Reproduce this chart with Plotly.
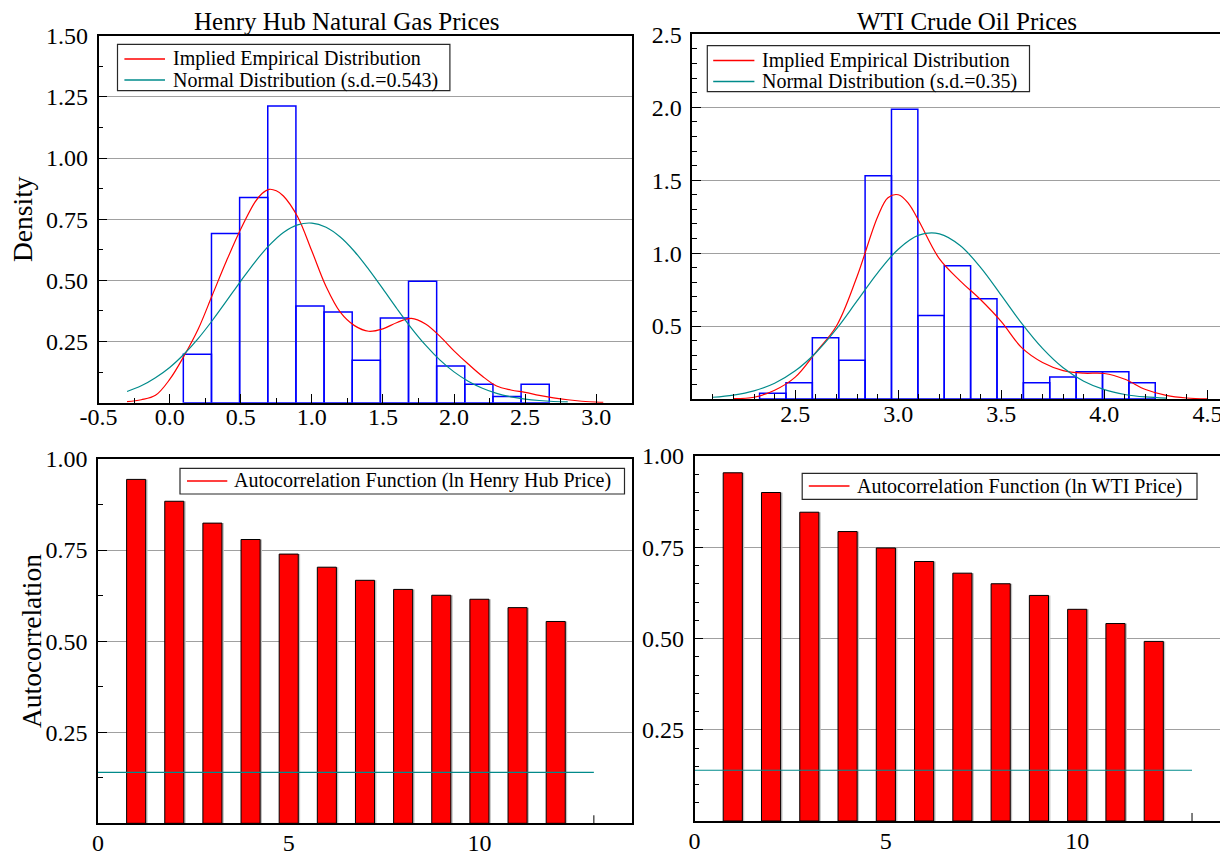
import plotly.graph_objects as go

# the page body adds an 8px margin, so the figure is sized to fill the rest of the window
OFF = 8
W, H = 1228 - OFF, 857 - OFF
FONT = "Liberation Serif"

# ---------------- Henry Hub: histogram + densities ----------------
hh_bin_edges = [0.096, 0.294, 0.492, 0.690, 0.888, 1.086, 1.284, 1.482,
                1.680, 1.878, 2.076, 2.274, 2.472, 2.670]
hh_density = [0.198, 0.692, 0.839, 1.2125, 0.395, 0.371, 0.173, 0.346,
              0.496, 0.150, 0.075, 0.025, 0.075]
hh_kde_x = [-0.3, -0.2, -0.1, 0.0, 0.1, 0.2, 0.3, 0.4, 0.5, 0.6, 0.65, 0.7, 0.75,
            0.8, 0.9, 1.0, 1.1, 1.2, 1.3, 1.4, 1.5, 1.6, 1.7, 1.8, 1.9, 2.0,
            2.1, 2.2, 2.3, 2.4, 2.5, 2.6, 2.7, 2.8, 2.9, 3.0, 3.05]
hh_kde_y = [0.004, 0.012, 0.03, 0.095, 0.19, 0.30, 0.44, 0.58, 0.71, 0.82, 0.855, 0.872, 0.866,
            0.845, 0.76, 0.62, 0.475, 0.37, 0.315, 0.292, 0.302, 0.328, 0.345, 0.322, 0.272, 0.212,
            0.158, 0.108, 0.068, 0.052, 0.042, 0.030, 0.020, 0.012, 0.006, 0.002, 0.001]
hh_norm_x = [-0.3, -0.2, -0.1, 0.0, 0.1, 0.2, 0.3, 0.4, 0.5, 0.6, 0.7, 0.8, 0.9, 1.0,
             1.1, 1.2, 1.3, 1.4, 1.5, 1.6, 1.7, 1.8, 1.9, 2.0, 2.1, 2.2, 2.3, 2.4,
             2.5, 2.6, 2.7, 2.8]
hh_norm_y = [0.046, 0.069, 0.102, 0.144, 0.198, 0.262, 0.336, 0.416, 0.497, 0.575, 0.643,
             0.696, 0.727, 0.734, 0.717, 0.677, 0.618, 0.545, 0.465, 0.383, 0.305, 0.235,
             0.175, 0.126, 0.088, 0.059, 0.038, 0.024, 0.015, 0.009, 0.005, 0.003]

# ---------------- WTI: histogram + densities ----------------
wti_bin_edges = [2.327, 2.455, 2.583, 2.711, 2.839, 2.967, 3.095, 3.223, 3.351,
                 3.479, 3.607, 3.735, 3.863, 3.991, 4.119, 4.247]
wti_density = [0.039, 0.112, 0.42, 0.265, 1.53, 1.986, 0.573, 0.913, 0.687,
               0.495, 0.112, 0.151, 0.187, 0.187, 0.112]
wti_kde_x = [2.2, 2.3, 2.4, 2.5, 2.6, 2.7, 2.8, 2.9, 2.95, 3.0, 3.05, 3.1, 3.2, 3.3,
             3.4, 3.5, 3.6, 3.7, 3.8, 3.9, 4.0, 4.1, 4.2, 4.3, 4.4, 4.5]
wti_kde_y = [0.003, 0.012, 0.06, 0.15, 0.32, 0.50, 0.84, 1.25, 1.38, 1.40, 1.34, 1.22, 0.96, 0.81,
             0.68, 0.53, 0.35, 0.25, 0.195, 0.177, 0.175, 0.135, 0.065, 0.025, 0.007, 0.001]
wti_norm_x = [2.1, 2.2, 2.3, 2.4, 2.5, 2.6, 2.7, 2.8, 2.9, 3.0, 3.1, 3.2, 3.3, 3.4,
              3.5, 3.6, 3.7, 3.8, 3.9, 4.0, 4.1, 4.2, 4.3]
wti_norm_y = [0.012, 0.027, 0.056, 0.108, 0.193, 0.317, 0.480, 0.672, 0.865, 1.027, 1.123,
              1.132, 1.052, 0.901, 0.711, 0.517, 0.347, 0.214, 0.122, 0.064, 0.031, 0.014, 0.006]

# ---------------- Autocorrelations ----------------
acf_lags = [1, 2, 3, 4, 5, 6, 7, 8, 9, 10, 11, 12]
hh_acf = [0.944, 0.884, 0.824, 0.779, 0.739, 0.703, 0.667, 0.642, 0.626, 0.615, 0.592, 0.554]
wti_acf = [0.954, 0.900, 0.846, 0.793, 0.748, 0.711, 0.679, 0.650, 0.618, 0.580, 0.541, 0.492]
band_x = [0, 13]
hh_band = 0.140
wti_band = 0.139

# ---------------- labels ----------------
hh_xticks = [-0.5, 0.0, 0.5, 1.0, 1.5, 2.0, 2.5, 3.0]
hh_yticks = [0.25, 0.50, 0.75, 1.00, 1.25, 1.50]
wti_xticks = [2.5, 3.0, 3.5, 4.0, 4.5]
wti_yticks = [0.5, 1.0, 1.5, 2.0, 2.5]
acf_xticks = [0, 5, 10]
acf_yticks = [0.25, 0.50, 0.75, 1.00]
panel_titles = ["Henry Hub Natural Gas Prices", "WTI Crude Oil Prices"]
axis_titles = ["Density", "Autocorrelation"]
legend_names = ["Implied Empirical Distribution", "Normal Distribution (s.d.=0.543)",
                "Normal Distribution (s.d.=0.35)",
                "Autocorrelation Function (ln Henry Hub Price)",
                "Autocorrelation Function (ln WTI Price)"]

RED = "rgb(255,0,0)"
TEAL = "rgb(0,139,139)"
BLUE = "rgb(0,0,255)"

fig = go.Figure()


def hist(edges, dens, xa, ya):
    centers = [(edges[i] + edges[i + 1]) / 2 for i in range(len(dens))]
    widths = [edges[i + 1] - edges[i] for i in range(len(dens))]
    fig.add_trace(go.Bar(x=centers, y=dens, width=widths, xaxis=xa, yaxis=ya,
                         marker=dict(color="rgba(0,0,0,0)", line=dict(color=BLUE, width=1.5)),
                         showlegend=False, hoverinfo="skip"))


hist(hh_bin_edges, hh_density, "x", "y")
fig.add_trace(go.Scatter(x=hh_kde_x, y=hh_kde_y, mode="lines", line=dict(color=RED, width=1.2, shape="spline"),
                         name=legend_names[0], xaxis="x", yaxis="y", showlegend=False))
fig.add_trace(go.Scatter(x=hh_norm_x, y=hh_norm_y, mode="lines", line=dict(color=TEAL, width=1.2, shape="spline"),
                         name=legend_names[1], xaxis="x", yaxis="y", showlegend=False))

hist(wti_bin_edges, wti_density, "x2", "y2")
fig.add_trace(go.Scatter(x=wti_kde_x, y=wti_kde_y, mode="lines", line=dict(color=RED, width=1.2, shape="spline"),
                         name=legend_names[0], xaxis="x2", yaxis="y2", showlegend=False))
fig.add_trace(go.Scatter(x=wti_norm_x, y=wti_norm_y, mode="lines", line=dict(color=TEAL, width=1.2, shape="spline"),
                         name=legend_names[2], xaxis="x2", yaxis="y2", showlegend=False))


def acf(vals, band, xa, ya, name):
    fig.add_trace(go.Bar(x=acf_lags, y=vals, width=0.5, offset=-0.2, xaxis=xa, yaxis=ya,
                         marker=dict(color="rgb(195,195,195)", line=dict(width=0)),
                         showlegend=False, hoverinfo="skip"))
    fig.add_trace(go.Bar(x=acf_lags, y=vals, width=0.5, offset=-0.25, xaxis=xa, yaxis=ya,
                         marker=dict(color=RED, line=dict(color="black", width=1)),
                         name=name, showlegend=False))
    fig.add_trace(go.Scatter(x=band_x, y=[band, band], mode="lines", line=dict(color=TEAL, width=1.2),
                             xaxis=xa, yaxis=ya, showlegend=False))


acf(hh_acf, hh_band, "x3", "y3", legend_names[3])
acf(wti_acf, wti_band, "x4", "y4", legend_names[4])


# screen pixel -> paper fraction
def sx(v):
    return (v - OFF) / W


def sy(v):
    return 1 - (v - OFF) / H


def px_x(a, b):
    return [max(0.0, sx(a)), min(1.0, sx(b))]


def px_y(top, bottom):
    return [max(0.0, sy(bottom)), min(1.0, sy(top))]


def axis(domain, rng, tickvals, fmt, minor, mirror, anchor, grid=False, ticks="inside", standoff=0):
    d = dict(domain=domain, range=rng, tickmode="array", tickvals=tickvals,
             ticktext=[fmt.format(v) for v in tickvals], anchor=anchor, automargin=False,
             showline=True, linecolor="black", linewidth=1.5, mirror=mirror,
             ticks=ticks, ticklen=9, tickwidth=1, tickcolor="black",
             tickfont=dict(family=FONT, size=24, color="black"), ticklabelstandoff=standoff,
             zeroline=False, showgrid=grid, gridcolor="rgb(160,160,160)", gridwidth=1.2,
             fixedrange=True)
    if minor:
        d["minor"] = dict(tickmode="linear", tick0=minor[0], dtick=minor[1], ticks="inside",
                          ticklen=5, tickwidth=1, tickcolor="black", showgrid=False)
    return d


layout = dict(
    width=W, height=H, margin=dict(l=0, r=0, t=0, b=0, autoexpand=False),
    paper_bgcolor="white", plot_bgcolor="white", barmode="overlay", showlegend=False,
    font=dict(family=FONT, color="black"),
    xaxis=axis(px_x(98.6, 631.7), [-0.5, 3.25], hh_xticks, "{:.1f}", (0, 0.25), True, "y", standoff=-8),
    yaxis=axis(px_y(35.7, 402.7), [0, 1.5], hh_yticks, "{:.2f}", (0, 0.125), True, "x", grid=True, standoff=4),
    xaxis2=axis(px_x(692.2, 1228), [2.0, 4.6], wti_xticks, "{:.1f}", (2.0, 0.1), True, "y2", standoff=-8),
    yaxis2=axis(px_y(34.3, 399), [0, 2.5], wti_yticks, "{:.1f}", (0, 0.1), False, "x2", grid=True, standoff=4),
    xaxis3=axis(px_x(98, 632), [0, 14], acf_xticks, "{:d}", None, True, "y3", ticks="", standoff=-3),
    yaxis3=axis(px_y(459, 823.3), [0, 1.0], acf_yticks, "{:.2f}", (0, 0.125), True, "x3", grid=True, standoff=4),
    xaxis4=axis(px_x(694.5, 1228), [0, 13.94], acf_xticks, "{:d}", None, True, "y4", ticks="", standoff=-3),
    yaxis4=axis(px_y(456, 821), [0, 1.0], acf_yticks, "{:.2f}", (0, 0.05), False, "x4", grid=True, standoff=4),
)
fig.update_layout(**layout)

# panel titles (top of text box at the top of the figure)
for text, xc in [(panel_titles[0], 346.5), (panel_titles[1], 967)]:
    fig.add_annotation(text=text, x=sx(xc), y=1.0, xref="paper", yref="paper",
                       xanchor="center", yanchor="top", showarrow=False, yshift=2,
                       font=dict(family=FONT, size=25, color="black"))

# y-axis titles
for text, xc, yc in [(axis_titles[0], 22, 219), (axis_titles[1], 31.6, 641.5)]:
    fig.add_annotation(text=text, x=sx(xc), y=sy(yc), xref="paper", yref="paper",
                       xanchor="center", yanchor="middle", showarrow=False, textangle=-90,
                       font=dict(family=FONT, size=27.5, color="black"))


# ---- legend boxes (positioned in screen pixels) ----
def legend_box(x0, x1, y0, y1, rows, line_x, text_x):
    fig.add_shape(type="rect", xref="paper", yref="paper", x0=sx(x0), x1=sx(x1),
                  y0=sy(y1), y1=sy(y0), line=dict(color="rgb(40,40,40)", width=1.2),
                  fillcolor="white", layer="above")
    for yc, color, text in rows:
        fig.add_shape(type="line", xref="paper", yref="paper", x0=sx(line_x[0]), x1=sx(line_x[1]),
                      y0=sy(yc), y1=sy(yc), line=dict(color=color, width=1.5), layer="above")
        fig.add_annotation(text=text, x=sx(text_x), y=sy(yc), xref="paper", yref="paper",
                           xanchor="left", yanchor="middle", showarrow=False,
                           font=dict(family=FONT, size=20, color="black"))


legend_box(117.5, 449.9, 44.3, 90.7,
           [(59, RED, legend_names[0]), (80, TEAL, legend_names[1])], (124.4, 165), 170.5)
legend_box(707.3, 1029.5, 45.7, 91.7,
           [(60.5, RED, legend_names[0]), (81.5, TEAL, legend_names[2])], (713.2, 754.4), 759.5)
legend_box(180, 624.5, 468.3, 494,
           [(481, RED, legend_names[3])], (187, 227.3), 232)
legend_box(802.2, 1197, 473.3, 499.3,
           [(486, RED, legend_names[4])], (808.8, 849.5), 855)

# lone tick marks at lag 13 on the lag axes
for xa, ya in [("x3", "y3"), ("x4", "y4")]:
    fig.add_shape(type="line", xref=xa, yref=ya + " domain", x0=13, x1=13, y0=0, y1=0.022,
                  line=dict(color="black", width=1))

fig.write_html("out.html")
